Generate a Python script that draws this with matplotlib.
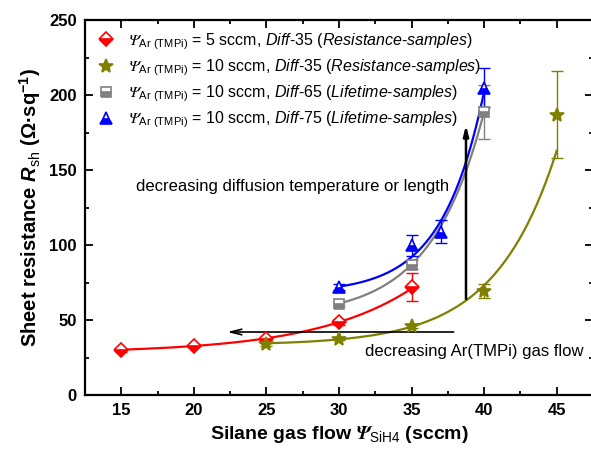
import numpy as np
import matplotlib
matplotlib.use("Agg")
import matplotlib.pyplot as plt
from matplotlib.ticker import MultipleLocator

plt.rcParams['font.family'] = ['Liberation Sans', 'DejaVu Sans']
plt.rcParams['mathtext.fontset'] = 'custom'
plt.rcParams['mathtext.rm'] = 'Liberation Sans'
plt.rcParams['mathtext.it'] = 'Liberation Sans:italic'
plt.rcParams['mathtext.bf'] = 'Liberation Sans:bold'
plt.rcParams['mathtext.bfit'] = 'Liberation Sans:italic:bold'
plt.rcParams['mathtext.sf'] = 'STIXGeneral:italic'
plt.rcParams['mathtext.cal'] = 'STIXGeneral:italic:bold'

# Data
x_red = [15, 20, 25, 30, 35]
y_red = [30, 33, 37.5, 48.5, 72]
e_red = [1, 1, 1.5, 2, 9.5]

x_olive = [25, 30, 35, 40, 45]
y_olive = [34, 37.5, 46, 69.5, 187]
e_olive = [1, 1, 1.5, 4.5, 29]

x_gray = [30, 35, 40]
y_gray = [61, 87, 189]
e_gray = [1.5, 3, 18]

x_blue = [30, 35, 37, 40]
y_blue = [72, 100, 109, 205]
e_blue = [2, 7, 7.5, 13]

labels = [
    r'$\mathsf{\Psi}_{\mathrm{Ar\ (TMPi)}}$ = 5 sccm, $\mathit{Diff‐35}$ ($\mathit{Resistance‐samples}$)',
    r'$\mathsf{\Psi}_{\mathrm{Ar\ (TMPi)}}$ = 10 sccm, $\mathit{Diff‐35}$ ($\mathit{Resistance‐samples}$)',
    r'$\mathsf{\Psi}_{\mathrm{Ar\ (TMPi)}}$ = 10 sccm, $\mathit{Diff‐65}$ ($\mathit{Lifetime‐samples}$)',
    r'$\mathsf{\Psi}_{\mathrm{Ar\ (TMPi)}}$ = 10 sccm, $\mathit{Diff‐75}$ ($\mathit{Lifetime‐samples}$)',
]
colors = ['#ff0000', '#808000', '#808080', '#0000ff']
markers = ['D', '*', 's', '^']
msizes = [7, 10, 7, 8]
fills = ['bottom', 'full', 'bottom', 'bottom']


def exp_fit(x, y, e):
    # ExpGrow fit y = y0 + A*exp(x/t), weighted, grid search over t
    x = np.asarray(x, float); y = np.asarray(y, float)
    w = 1.0 / np.asarray(e, float)
    best = None
    for t in np.linspace(1.0, 20.0, 400):
        M = np.column_stack([np.ones_like(x), np.exp(x / t)])
        coef, *_ = np.linalg.lstsq(M * w[:, None], y * w, rcond=None)
        r = np.sum(((M @ coef - y) * w) ** 2)
        if best is None or r < best[0]:
            best = (r, t, coef)
    _, t, coef = best
    xs = np.linspace(x.min(), x.max(), 200)
    return xs, coef[0] + coef[1] * np.exp(xs / t)


fig = plt.figure(figsize=(5.91, 4.53), dpi=100)
ax = fig.add_axes([85 / 591, 58 / 453, 508 / 591, 375 / 453])

series = [(x_red, y_red, e_red), (x_olive, y_olive, e_olive),
          (x_gray, y_gray, e_gray), (x_blue, y_blue, e_blue)]
handles = []
for (xs, ys, es), c, m, ms, fs, lab in zip(series, colors, markers, msizes, fills, labels):
    fx, fy = exp_fit(xs, ys, es)
    ax.plot(fx, fy, color=c, lw=1.6, zorder=2)
    ax.errorbar(xs, ys, yerr=es, fmt='none', ecolor=c, elinewidth=1, capsize=4, zorder=3)
    h, = ax.plot(xs, ys, ls='none', marker=m, ms=ms, color=c, mec=c, mew=1.2,
                 fillstyle=fs, markerfacecoloralt='white', label=lab, zorder=4)
    handles.append(h)

ax.annotate('', xy=(38.75, 180), xytext=(38.75, 64),
            arrowprops=dict(arrowstyle='-|>,head_width=0.15,head_length=0.6', lw=1.8,
                            color='black', shrinkA=0, shrinkB=0))
ax.annotate('', xy=(22.3, 42), xytext=(37.9, 42),
            arrowprops=dict(arrowstyle='->,head_width=0.2,head_length=0.8', lw=1.2,
                            color='black', shrinkA=0, shrinkB=0))
ax.text(16.0, 138.7, 'decreasing diffusion temperature or length', fontsize=12, va='center')
ax.text(31.8, 29.3, 'decreasing Ar(TMPi) gas flow', fontsize=12, va='center')

ax.set_xlim(12.5, 47.5)
ax.set_ylim(0, 250)
ax.xaxis.set_major_locator(MultipleLocator(5))
ax.xaxis.set_minor_locator(MultipleLocator(2.5))
ax.yaxis.set_major_locator(MultipleLocator(50))
ax.yaxis.set_minor_locator(MultipleLocator(25))
ax.tick_params(which='both', direction='in', top=True, right=True, width=1.3)
ax.tick_params(which='major', length=6, labelsize=12, pad=6)
ax.tick_params(which='minor', length=3)
for lbl in ax.get_xticklabels() + ax.get_yticklabels():
    lbl.set_fontweight('bold')
for sp in ax.spines.values():
    sp.set_linewidth(1.6)

ax.set_xlabel(r'Silane gas flow $\mathcal{\Psi}_{\mathrm{SiH4}}$ (sccm)', fontsize=14, fontweight='bold')
ax.set_ylabel(r'Sheet resistance $\mathbfit{R}_{\mathrm{sh}}$ ($\mathbf{\Omega}$·sq$^{\mathbf{-1}}$)',
              fontsize=14.5, fontweight='bold')

ax.legend(handles=handles, loc='upper left', frameon=False, fontsize=11.5,
          handlelength=1.2, handletextpad=0.8, labelspacing=0.35,
          borderaxespad=0.3, bbox_to_anchor=(0.0, 1.0))

fig.savefig('out.png', dpi=100)
